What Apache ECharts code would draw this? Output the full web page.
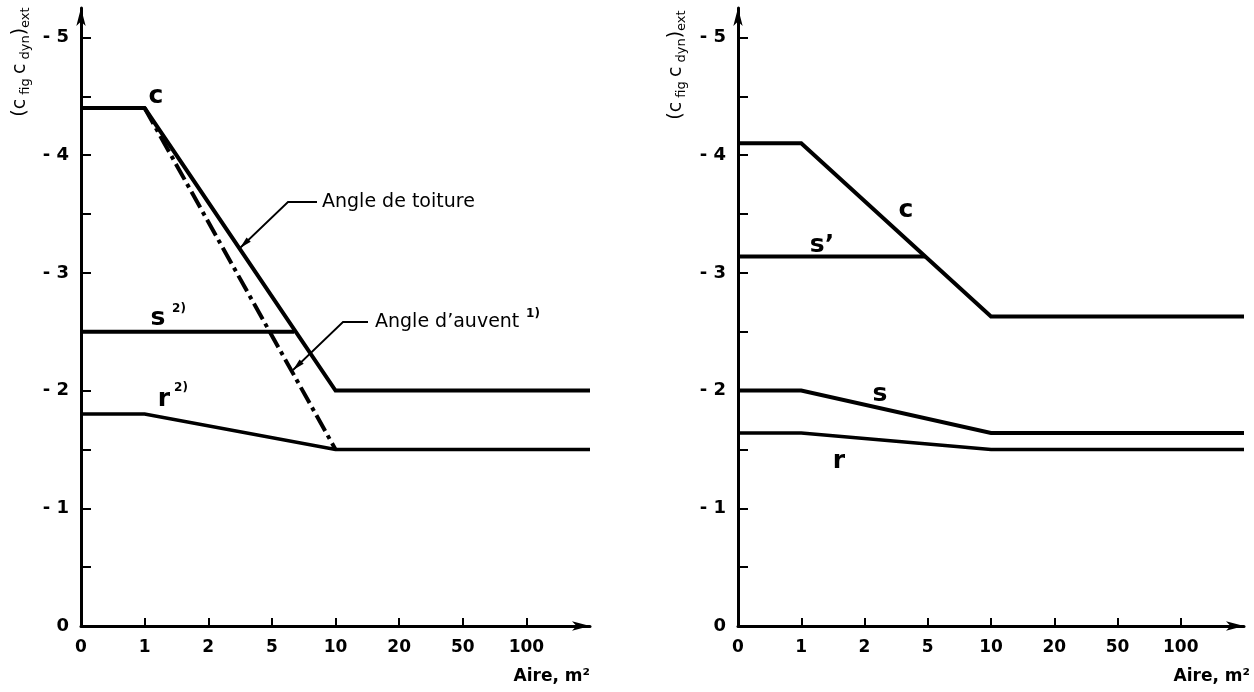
<!DOCTYPE html>
<html><head><meta charset="utf-8">
<script src="https://cdn.jsdelivr.net/npm/echarts@6/dist/echarts.min.js"></script>
<style>html,body{margin:0;padding:0;background:#fff}#c{width:1254px;height:692px}</style>
</head><body><div id="c"></div>
<script>
// ---- data ----
const xTickLabels = ['0','1','2','5','10','20','50','100']; // category positions 0..7
const yTickLabelValues = [0,-1,-2,-3,-4,-5];
const yTickValues = [0,-0.5,-1,-1.5,-2,-2.5,-3,-3.5,-4,-4.5,-5];

// left panel
const L_c_x = [0, 1, 4, 8];      const L_c_y = [-4.4, -4.4, -2.0, -2.0];
const L_auvent_x = [1, 4];       const L_auvent_y = [-4.4, -1.5];
const L_s_x = [0, 3.35];         const L_s_y = [-2.5, -2.5];
const L_r_x = [0, 1, 4, 8];      const L_r_y = [-1.8, -1.8, -1.5, -1.5];
// right panel
const R_c_x = [0, 1, 4, 8];      const R_c_y = [-4.1, -4.1, -2.63, -2.63];
const R_sp_x = [0, 2.96];        const R_sp_y = [-3.14, -3.14];
const R_s_x = [0, 1, 4, 8];      const R_s_y = [-2.0, -2.0, -1.64, -1.64];
const R_r_x = [0, 1, 4, 8];      const R_r_y = [-1.64, -1.64, -1.5, -1.5];

const zip = (xs, ys) => xs.map((x, i) => [x, ys[i]]);

const FONT = 'DejaVu Sans';
function xAxis(gi){
  return {
    type:'value', gridIndex:gi, min:0, max:8,
    axisLine:{show:true, onZero:false, lineStyle:{color:'#000', width:3}, symbol:['none','arrow'], symbolSize:[7,18]},
    axisTick:{show:true, inside:true, length:8, lineStyle:{color:'#000', width:2}, customValues:[1,2,3,4,5,6,7]},
    axisLabel:{show:true, margin:13, color:'#000', fontFamily:FONT, fontSize:17, fontWeight:'bold',
      customValues:[0,1,2,3,4,5,6,7], formatter:v => xTickLabels[Math.round(v)] ?? ''},
    splitLine:{show:false}
  };
}
function yAxis(gi){
  return {
    type:'value', gridIndex:gi, min:-5.25, max:0, inverse:true,
    axisLine:{show:true, onZero:false, lineStyle:{color:'#000', width:3}, symbol:['none','arrow'], symbolSize:[7,18]},
    axisTick:{show:true, inside:true, length:10, lineStyle:{color:'#000', width:2}, customValues:yTickValues},
    axisLabel:{show:true, margin:12, color:'#000', fontFamily:FONT, fontSize:18, fontWeight:'bold',
      customValues:yTickLabelValues, formatter:v => v === 0 ? '0' : '- ' + Math.abs(v)},
    splitLine:{show:false}
  };
}
function line(gi, data, dash, w){
  return {type:'line', xAxisIndex:gi, yAxisIndex:gi, data, symbol:'none', silent:true,
    lineStyle:{color:'#000', width:w || 4, type: dash || 'solid', cap:'butt', join:'miter'}};
}

const chart = echarts.init(document.getElementById('c'), null, {renderer:'canvas'});
chart.setOption({
  animation:false,
  backgroundColor:'#fff',
  grid:[
    {left:81, right:664, top:8, bottom:66, containLabel:false},
    {left:738, right:10, top:8, bottom:66, containLabel:false}
  ],
  xAxis:[xAxis(0), xAxis(1)],
  yAxis:[yAxis(0), yAxis(1)],
  series:[
    line(0, zip(L_c_x, L_c_y)),
    line(0, zip(L_auvent_x, L_auvent_y), [18,5,4,5]),
    line(0, zip(L_s_x, L_s_y)),
    line(0, zip(L_r_x, L_r_y), null, 3.5),
    line(1, zip(R_c_x, R_c_y)),
    line(1, zip(R_sp_x, R_sp_y)),
    line(1, zip(R_s_x, R_s_y)),
    line(1, zip(R_r_x, R_r_y), null, 3.5)
  ]
});

// ---- annotations ----
const g = [];
function txt(x, y, text, size, bold, align, valign){
  g.push({type:'text', x, y, silent:true, style:{text, fill:'#000', fontFamily:FONT, fontSize:size,
    fontWeight: bold ? 'bold' : 'normal', align: align || 'center', verticalAlign: valign || 'middle'}});
}
function yName(x, y){
  g.push({type:'text', x, y, rotation:Math.PI/2, silent:true, style:{
    text:'{m|(c}{s| fig }{m|c}{s| dyn}{m|)}{s|ext}',
    align:'center', verticalAlign:'middle', fill:'#000',
    rich:{
      m:{fontFamily:FONT, fontSize:19, fill:'#000', lineHeight:24, verticalAlign:'middle'},
      s:{fontFamily:FONT, fontSize:13, fill:'#000', lineHeight:24, verticalAlign:'bottom'}
    }}});
}
function leader(hx1, hx2, hy, tx, ty){
  g.push({type:'polyline', silent:true, shape:{points:[[hx2,hy],[hx1,hy],[tx,ty]]},
    style:{stroke:'#000', lineWidth:1.8, fill:null}});
  const dx = tx - hx1, dy = ty - hy, L = Math.hypot(dx, dy), ux = dx/L, uy = dy/L;
  const al = 12, aw = 3;
  const bx = tx - ux*al, by = ty - uy*al;
  g.push({type:'polygon', silent:true, shape:{points:[[tx,ty],[bx - uy*aw, by + ux*aw],[bx + uy*aw, by - ux*aw]]},
    style:{fill:'#000'}});
}
// left panel
yName(20, 62);
txt(156, 96, 'c', 25, true);
txt(158, 318, 's', 25, true);
txt(179, 309, '2)', 12, true);
txt(164, 399, 'r', 25, true);
txt(181, 388, '2)', 12, true);
leader(288, 317, 202, 240, 248);
txt(322, 202, 'Angle de toiture', 19, false, 'left');
leader(343, 368, 322, 293, 370);
txt(375, 322, 'Angle d’auvent', 19, false, 'left');
txt(533, 314, '1)', 12, true);
txt(590, 677, 'Aire, m²', 17, true, 'right');
// right panel
yName(676, 65);
txt(906, 210, 'c', 25, true);
txt(822, 245, 's’', 25, true);
txt(880, 394, 's', 25, true);
txt(839, 461, 'r', 25, true);
txt(1250, 677, 'Aire, m²', 17, true, 'right');
chart.setOption({graphic:g});
</script>
</body></html>
